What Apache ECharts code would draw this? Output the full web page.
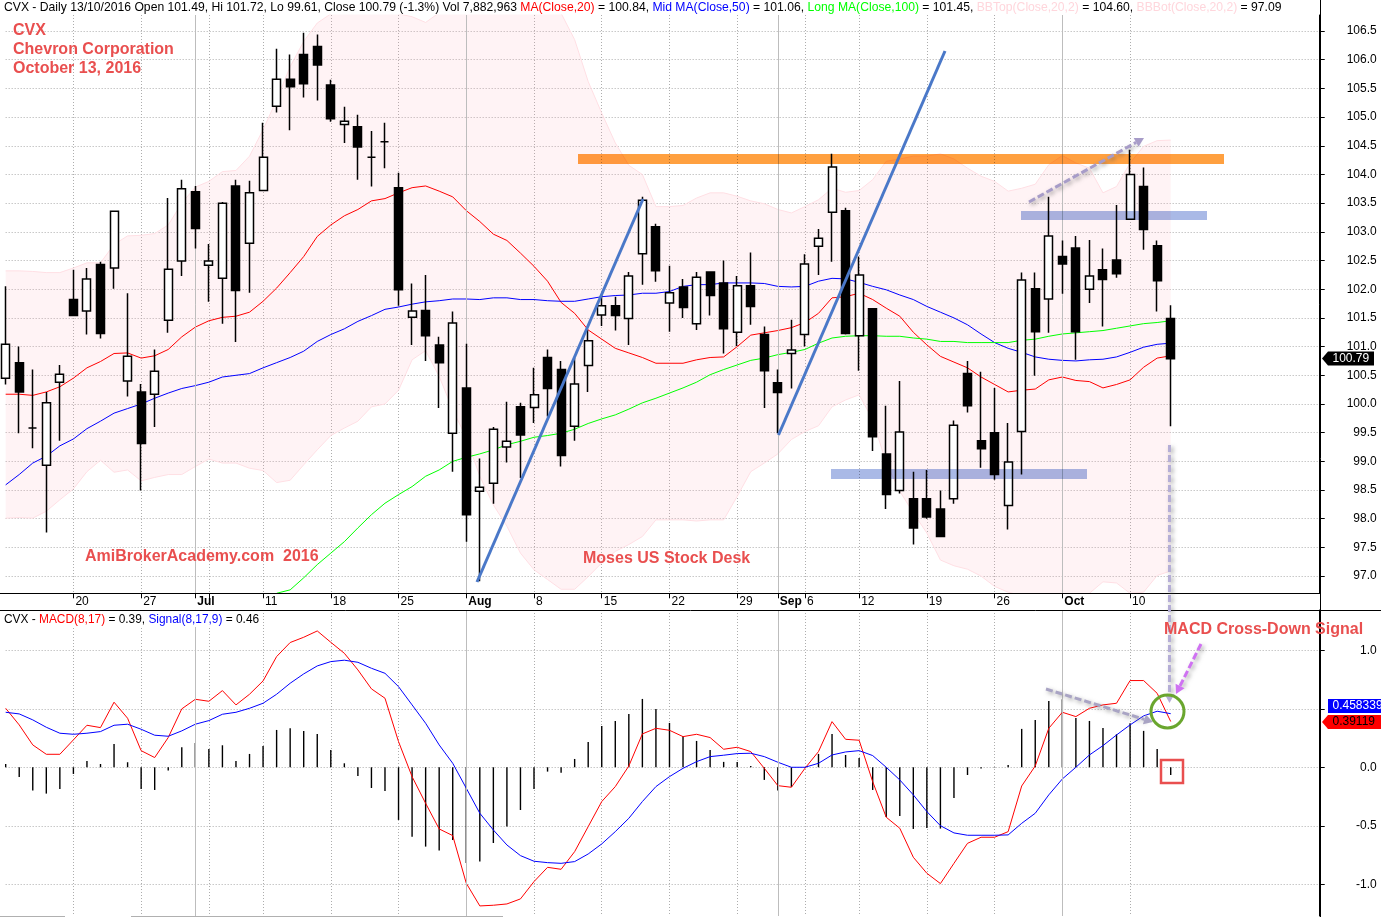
<!DOCTYPE html>
<html>
<head>
<meta charset="utf-8">
<title>CVX daily</title>
<style>html,body{margin:0;padding:0;background:#fff}#chart{width:1381px;height:917px}</style>
<script src="https://cdn.jsdelivr.net/npm/echarts@6/dist/echarts.min.js"></script>
</head>
<body>
<div id="chart"></div>
<script>
// trading days, then the empty bars to the right of the last candle
var categories = [
  '06-13','06-14','06-15','06-16','06-17','06-20','06-21','06-22','06-23','06-24','06-27','06-28','06-29','06-30',
  '07-01','07-05','07-06','07-07','07-08','07-11','07-12','07-13','07-14','07-15','07-18','07-19','07-20','07-21','07-22',
  '07-25','07-26','07-27','07-28','07-29','08-01','08-02','08-03','08-04','08-05','08-08','08-09','08-10','08-11','08-12',
  '08-15','08-16','08-17','08-18','08-19','08-22','08-23','08-24','08-25','08-26','08-29','08-30','08-31','09-01','09-02',
  '09-06','09-07','09-08','09-09','09-12','09-13','09-14','09-15','09-16','09-19','09-20','09-21','09-22','09-23',
  '09-26','09-27','09-28','09-29','09-30','10-03','10-04','10-05','10-06','10-07','10-10','10-11','10-12','10-13',
  '10-14','10-17','10-18','10-19','10-20','10-21','10-24','10-25','10-26','10-27','10-28'
];
var tickDates = ['06-20','06-27','07-01','07-05','07-11','07-18','07-25','08-01','08-08','08-15','08-22','08-29','09-01','09-06','09-12','09-19','09-26','10-03','10-10'];
var tickTexts = ['20','27','Jul','','11','18','25','Aug','8','15','22','29','Sep','6','12','19','26','Oct','10'];
var monthDates = ['07-01','08-01','09-01','10-03'];
var priceTicks = [97,97.5,98,98.5,99,99.5,100,100.5,101,101.5,102,102.5,103,103.5,104,104.5,105,105.5,106,106.5];
var macdTicks = [-1,-0.5,0,0.5,1];

var opens = [100.45,100.72,99.58,98.93,100.38,101.82,101.62,102.43,102.37,100.40,100.21,100.17,101.46,102.49,103.70,102.42,102.19,103.80,102.80,103.72,
  105.19,105.66,106.09,106.23,105.56,104.87,104.83,104.30,104.57,103.77,101.51,101.63,101.03,99.49,100.28,98.48,98.62,99.25,99.95,99.94,
  100.81,100.60,99.61,100.67,101.55,101.71,101.49,102.62,103.09,101.76,102.04,101.40,102.30,102.11,101.25,102.06,101.21,100.37,100.88,101.21,
  102.75,103.34,103.37,101.19,101.66,99.13,98.49,98.35,98.35,98.17,98.35,100.53,99.36,99.50,98.23,99.52,102.01,101.83,102.57,102.72,
  102.00,102.34,102.51,103.22,103.79,102.76,101.49];
var closes = [101.04,100.21,99.58,100.02,100.52,101.54,102.18,101.23,103.36,100.83,99.31,100.57,102.35,103.75,103.06,102.49,103.50,101.98,103.68,104.30,
  105.66,105.53,105.58,105.91,104.97,104.93,104.48,104.30,104.57,101.99,101.62,101.19,100.72,101.41,98.07,98.55,99.56,99.35,99.46,100.16,
  100.27,99.10,100.35,101.10,101.71,101.54,102.23,103.55,102.32,101.94,101.68,102.21,101.89,101.31,102.06,101.70,100.58,100.20,100.94,102.44,
  102.89,104.13,101.23,102.25,99.43,98.42,99.51,97.84,98.03,97.69,99.63,99.97,99.22,98.77,98.99,102.16,101.26,102.93,102.44,101.26,
  102.23,102.17,102.27,104.00,103.04,102.15,100.79];
var highs = [102.05,101.00,100.60,100.21,100.68,102.34,102.37,102.48,103.36,101.93,100.35,100.95,103.59,103.91,103.80,102.79,103.52,103.91,103.89,104.90,
  106.19,106.09,106.47,106.44,105.65,105.18,105.04,104.76,104.90,104.03,102.10,102.25,101.17,101.61,101.05,99.05,99.60,100.04,100.02,100.63,
  100.95,100.75,100.80,101.29,101.90,101.87,102.30,103.61,103.14,102.41,102.18,102.30,102.30,102.50,102.23,102.64,101.35,100.60,101.47,102.61,
  103.05,104.36,103.42,102.57,101.66,99.97,100.40,98.82,98.85,98.49,99.71,100.75,100.56,100.28,99.67,102.29,102.29,103.61,102.85,102.93,
  102.86,102.71,103.47,104.43,104.12,102.85,101.72];
var lows = [100.34,99.49,99.23,97.76,99.36,101.54,101.21,101.14,102.01,100.13,98.49,99.60,101.24,102.23,102.71,101.78,101.40,101.08,101.94,103.72,
  105.08,104.77,105.34,105.29,104.92,104.55,103.91,103.79,104.11,101.71,101.03,100.75,99.93,98.82,97.60,96.91,98.26,98.98,98.71,99.67,
  99.78,98.91,99.36,100.21,101.36,101.28,101.03,102.08,102.13,101.26,101.50,101.29,101.54,100.88,101.01,101.38,99.93,99.49,100.27,101.00,
  102.25,102.48,101.21,100.58,99.18,98.17,98.44,97.55,98.00,97.69,98.26,99.85,98.89,98.68,97.81,98.77,100.49,101.24,101.92,100.77,
  101.76,101.35,102.20,103.22,102.69,101.61,99.61];

var ma20 = [100.17,100.17,100.15,100.21,100.30,100.45,100.63,100.74,100.88,100.89,100.80,100.84,100.95,101.17,101.34,101.45,101.51,101.53,101.60,101.79,
  102.02,102.29,102.57,102.92,103.12,103.28,103.39,103.54,103.58,103.68,103.77,103.80,103.71,103.61,103.37,103.18,102.96,102.85,102.63,102.40,
  102.14,101.77,101.58,101.29,101.13,100.97,100.89,100.81,100.71,100.71,100.71,100.77,100.81,100.82,101.00,101.20,101.24,101.28,101.33,101.42,
  101.58,101.85,101.87,101.93,101.82,101.67,101.53,101.25,101.03,100.83,100.73,100.63,100.47,100.34,100.21,100.24,100.26,100.42,100.47,100.41,
  100.39,100.28,100.34,100.42,100.64,100.80,100.84];
var ma50 = [98.59,98.77,98.97,99.09,99.27,99.39,99.57,99.70,99.84,99.92,100.00,100.10,100.19,100.27,100.32,100.38,100.47,100.50,100.53,100.63,
  100.72,100.81,100.92,101.09,101.21,101.31,101.44,101.54,101.65,101.69,101.74,101.78,101.80,101.83,101.83,101.82,101.85,101.85,101.82,101.82,
  101.80,101.79,101.79,101.83,101.87,101.89,101.90,101.93,101.93,101.96,102.05,102.08,102.08,102.11,102.11,102.11,102.10,102.05,102.04,102.05,
  102.14,102.19,102.18,102.12,102.05,101.99,101.90,101.82,101.70,101.60,101.50,101.38,101.22,101.07,100.97,100.90,100.82,100.78,100.76,100.75,
  100.77,100.78,100.82,100.90,100.99,101.04,101.06];
var ma100 = [null,null,null,null,null,null,null,null,null,null,null,null,null,null,null,null,null,null,null,null,
  96.70,96.76,96.97,97.20,97.40,97.60,97.84,98.07,98.27,98.42,98.56,98.74,98.85,99.00,99.07,99.13,99.20,99.29,99.35,99.42,
  99.45,99.49,99.56,99.66,99.74,99.81,99.91,100.02,100.10,100.19,100.28,100.38,100.51,100.60,100.68,100.76,100.80,100.86,100.90,100.95,
  101.06,101.15,101.18,101.19,101.19,101.18,101.18,101.15,101.13,101.09,101.09,101.07,101.07,101.07,101.07,101.11,101.13,101.18,101.22,101.24,
  101.26,101.28,101.32,101.36,101.40,101.42,101.45];
// the top band leaves the plot between Jul 18 and Aug 10, those values are a guess
var bbTop = [102.32,102.32,102.31,102.29,102.29,102.37,102.46,102.46,102.78,102.93,102.94,102.97,103.12,103.50,103.78,103.88,104.05,104.07,104.32,104.78,
  105.30,105.88,106.32,106.64,106.80,106.95,107.05,107.05,106.95,106.80,106.75,106.65,106.82,107.00,107.10,107.20,107.25,107.25,107.20,107.10,
  107.00,106.81,106.35,105.62,105.07,104.55,104.16,104.00,103.44,103.44,103.46,103.59,103.68,103.68,103.62,103.54,103.49,103.39,103.33,103.44,
  103.56,103.76,103.69,103.72,103.91,104.23,104.27,104.32,104.32,104.36,104.27,104.11,103.97,103.88,103.71,103.76,103.83,104.17,104.33,104.20,
  104.11,103.68,103.79,104.20,104.49,104.59,104.60];
var bbBot = [98.01,98.02,98.01,98.13,98.33,98.52,98.82,99.02,98.81,98.85,98.66,98.72,98.77,98.77,98.91,99.04,98.97,98.97,98.88,98.84,
  98.63,98.67,98.94,99.20,99.45,99.58,99.70,99.95,100.00,100.24,100.77,100.93,100.48,99.90,99.41,98.74,98.24,97.87,97.40,97.11,
  96.94,96.77,96.77,96.99,97.23,97.43,97.55,97.69,97.98,97.98,97.98,97.96,97.98,97.98,98.39,98.82,98.97,99.13,99.38,99.52,
  99.62,99.95,100.07,100.16,99.73,98.97,98.48,98.10,97.75,97.28,97.18,97.12,97.00,96.82,96.72,96.66,96.62,96.62,96.62,96.65,
  96.70,96.90,96.88,96.70,96.72,97.01,97.09];

var macd = [0.504,0.362,0.191,0.111,0.111,0.234,0.359,0.339,0.556,0.419,0.142,0.083,0.254,0.499,0.581,0.564,0.655,0.533,0.624,0.738,
  0.946,1.066,1.111,1.165,1.068,0.974,0.832,0.670,0.590,0.219,-0.080,-0.308,-0.527,-0.584,-0.991,-1.185,-1.179,-1.168,-1.125,-0.977,
  -0.855,-0.872,-0.721,-0.507,-0.293,-0.165,0.011,0.285,0.333,0.316,0.262,0.282,0.254,0.154,0.171,0.134,-0.009,-0.157,-0.171,-0.009,
  0.134,0.390,0.239,0.231,-0.123,-0.427,-0.521,-0.769,-0.906,-0.994,-0.821,-0.650,-0.598,-0.598,-0.550,-0.160,0.011,0.333,0.470,0.433,
  0.504,0.533,0.547,0.741,0.741,0.632,0.391];
var signal = [0.470,0.456,0.405,0.342,0.291,0.282,0.291,0.305,0.359,0.368,0.325,0.274,0.265,0.311,0.368,0.399,0.453,0.470,0.504,0.547,
  0.624,0.718,0.798,0.866,0.903,0.915,0.897,0.846,0.803,0.689,0.533,0.376,0.191,0.034,-0.179,-0.393,-0.536,-0.664,-0.755,-0.803,
  -0.815,-0.821,-0.806,-0.741,-0.655,-0.550,-0.436,-0.293,-0.165,-0.080,-0.009,0.048,0.091,0.103,0.117,0.120,0.091,0.043,0.000,0.000,
  0.034,0.105,0.131,0.142,0.100,0.000,-0.108,-0.236,-0.379,-0.499,-0.561,-0.581,-0.581,-0.581,-0.578,-0.479,-0.393,-0.236,-0.100,0.000,
  0.105,0.185,0.276,0.362,0.439,0.479,0.458];
var hist = [0.028,-0.083,-0.199,-0.225,-0.185,-0.057,0.054,0.028,0.199,0.043,-0.185,-0.194,-0.028,0.171,0.208,0.157,0.188,0.054,0.114,0.182,
  0.319,0.333,0.311,0.285,0.148,0.034,-0.074,-0.177,-0.202,-0.450,-0.593,-0.678,-0.712,-0.621,-0.818,-0.806,-0.647,-0.507,-0.365,-0.185,
  -0.037,-0.046,0.071,0.217,0.353,0.396,0.456,0.584,0.499,0.379,0.268,0.225,0.148,0.046,0.046,0.011,-0.108,-0.199,-0.168,0.003,
  0.114,0.285,0.105,0.080,-0.194,-0.425,-0.416,-0.527,-0.519,-0.524,-0.262,-0.066,-0.011,-0.003,0.020,0.328,0.405,0.567,0.581,0.422,
  0.396,0.336,0.282,0.376,0.311,0.157,-0.066];

var FONT = '"Liberation Sans", Arial, sans-serif';
var ANNOT = '#e94f4f';
var GRID_DOT = { color: '#adadad', width: 1, type: [1, 2] };

var chart = echarts.init(document.getElementById('chart'));

var candleData = opens.map(function (o, i) {
  return [o, closes[i], lows[i], highs[i]];
});
var bbDiff = bbTop.map(function (v, i) {
  return +(v - bbBot[i]).toFixed(2);
});
var tickMap = {};
tickDates.forEach(function (d, i) { tickMap[d] = tickTexts[i]; });
function isTick(i, val) { return tickMap[val] !== undefined; }

function xAxisOf(gridIndex, withLabels) {
  return {
    type: 'category',
    gridIndex: gridIndex,
    data: categories,
    boundaryGap: false,
    axisLine: { show: withLabels, onZero: false, lineStyle: { color: '#000' } },
    axisTick: { show: withLabels, interval: isTick, length: 5, lineStyle: { color: '#000' } },
    axisLabel: {
      show: withLabels,
      interval: isTick,
      align: 'left',
      margin: 2,
      color: '#000',
      fontFamily: FONT,
      fontSize: 12,
      padding: [0, 0, 0, 2],
      formatter: function (v) {
        var t = tickMap[v] || '';
        return /[A-Z]/.test(t) ? '{m|' + t + '}' : t;
      },
      rich: { m: { fontWeight: 'bold', fontFamily: FONT, fontSize: 12, color: '#000' } }
    },
    splitLine: { show: true, interval: isTick, lineStyle: GRID_DOT }
  };
}

function yAxisOf(gridIndex, min, max, ticks, margin) {
  return {
    type: 'value',
    gridIndex: gridIndex,
    position: 'right',
    min: min,
    max: max,
    axisLine: { show: true, lineStyle: { color: '#000' } },
    axisTick: { show: true, length: 5, customValues: ticks, lineStyle: { color: '#000' } },
    axisLabel: {
      customValues: ticks,
      align: 'right',
      margin: margin,
      color: '#000',
      fontFamily: FONT,
      fontSize: 12,
      formatter: function (v) { return v.toFixed(1); }
    },
    splitLine: { show: true, lineStyle: GRID_DOT }
  };
}

function monthLines() {
  return {
    silent: true,
    symbol: 'none',
    label: { show: false },
    lineStyle: { color: '#bdbdbd', width: 1, type: 'solid' },
    data: monthDates.map(function (d) { return { xAxis: d }; })
  };
}

function lineSeries(name, data, color, xi, extra) {
  var s = {
    name: name,
    type: 'line',
    xAxisIndex: xi,
    yAxisIndex: xi,
    data: data,
    showSymbol: false,
    silent: true,
    z: 2,
    lineStyle: { color: color, width: 1 }
  };
  for (var k in extra) s[k] = extra[k];
  return s;
}

// drawn-on markup, these sit on the picture in pixels like the original overlay
function rect(x, y, w, h, fill) {
  return { type: 'rect', z: 100, shape: { x: x, y: y, width: w, height: h }, style: { fill: fill, blend: 'multiply' } };
}
function stroke(x1, y1, x2, y2, color, width) {
  return { type: 'line', z: 100, shape: { x1: x1, y1: y1, x2: x2, y2: y2 }, style: { stroke: color, lineWidth: width } };
}
function label(x, y, text, size) {
  return {
    type: 'text', z: 110,
    style: { x: x, y: y, text: text, fill: ANNOT, font: 'bold ' + size + 'px ' + FONT, verticalAlign: 'middle' }
  };
}
function arrow(x1, y1, x2, y2, color, width) {
  var a = Math.atan2(y2 - y1, x2 - x1), s = 9;
  return [{
    type: 'line', z: 105,
    shape: { x1: x1, y1: y1, x2: x2 - s * Math.cos(a), y2: y2 - s * Math.sin(a) },
    style: {
      stroke: color, lineWidth: width, lineDash: [7, 3],
      shadowBlur: 4, shadowColor: 'rgba(90,90,90,0.55)', shadowOffsetX: 2, shadowOffsetY: 2
    }
  }, {
    type: 'polygon', z: 105,
    shape: { points: [
      [x2, y2],
      [x2 - s * Math.cos(a) + 5 * Math.sin(a), y2 - s * Math.sin(a) - 5 * Math.cos(a)],
      [x2 - s * Math.cos(a) - 5 * Math.sin(a), y2 - s * Math.sin(a) + 5 * Math.cos(a)]
    ] },
    style: { fill: color }
  }];
}
function tag(y, text, fill, textFill, pointed, right) {
  var top = y - 7, bot = y + 7;
  var pts = pointed
    ? [[1322, y], [1328, top], [right, top], [right, bot], [1328, bot]]
    : [[1328, top], [right, top], [right, bot], [1328, bot]];
  return [{
    type: 'polygon', z: 120, shape: { points: pts }, style: { fill: fill }
  }, {
    type: 'text', z: 121,
    style: { x: 1332.5, y: y, text: text, fill: textFill, font: '12px ' + FONT, verticalAlign: 'middle' }
  }];
}

var headerMain = [
  '{k|CVX - Daily 13/10/2016 Open 101.49, Hi 101.72, Lo 99.61, Close 100.79 (-1.3%) Vol 7,882,963 }',
  '{r|MA(Close,20)}{k| = 100.84, }{b|Mid MA(Close,50)}{k| = 101.06, }{g|Long MA(Close,100)}{k| = 101.45, }',
  '{p|BBTop(Close,20,2)}{k| = 104.60, }{p|BBBot(Close,20,2)}{k| = 97.09}'
].join('');
var headerMacd = '{k|CVX - }{r|MACD(8,17)}{k| = 0.39, }{b|Signal(8,17,9)}{k| = 0.46}';
function headerRich(size) {
  var font = size + 'px ' + FONT;
  return {
    k: { fill: '#000', font: font },
    r: { fill: '#ff0000', font: font },
    b: { fill: '#0000ff', font: font },
    g: { fill: '#00ff00', font: font },
    p: { fill: '#ffd6dc', font: font }
  };
}

var markup = [
  // frame
  stroke(0, 593.5, 1320, 593.5, '#000', 1),
  stroke(0, 610.5, 1381, 610.5, '#000', 1),
  stroke(1320.5, 0, 1320.5, 917, '#000', 1),
  stroke(0, 916.5, 65, 916.5, '#b0b0b0', 1),
  stroke(131, 916.5, 503, 916.5, '#b0b0b0', 1),
  // panel titles
  { type: 'rect', z: 90, shape: { x: 0, y: 611, width: 262, height: 16 }, style: { fill: '#fff' } },
  { type: 'text', z: 110, style: { x: 4, y: 7.5, text: headerMain, rich: headerRich(12.17), verticalAlign: 'middle' } },
  { type: 'text', z: 110, style: { x: 4, y: 619.5, text: headerMacd, rich: headerRich(11.9), verticalAlign: 'middle' } },
  // support and resistance bars
  rect(578, 154, 646, 10, '#ffa040'),
  rect(831, 469, 256, 10, '#a9b9e6'),
  rect(1021, 211, 186, 9, '#a9b9e6'),
  // trend lines
  stroke(477, 582, 643, 199, '#4a78c8', 3),
  stroke(778.5, 435, 945, 51, '#4a78c8', 3),
  // notes
  label(13, 30.5, 'CVX', 16),
  label(13, 49.5, 'Chevron Corporation', 16),
  label(13, 68.5, 'October 13, 2016', 16),
  label(85, 557, 'AmiBrokerAcademy.com  2016', 16),
  label(583, 558.5, 'Moses US Stock Desk', 16),
  label(1164, 629.5, 'MACD Cross-Down Signal', 16),
  // cross-down markers
  { type: 'circle', z: 106, shape: { cx: 1167.5, cy: 711.5, r: 16.5 }, style: { fill: 'none', stroke: '#6aa62e', lineWidth: 3 } },
  { type: 'rect', z: 106, shape: { x: 1161, y: 760, width: 22, height: 23 }, style: { fill: 'none', stroke: ANNOT, lineWidth: 2.5 } }
]
  .concat(arrow(1029, 202, 1144, 138, '#a79cc8', 3))
  .concat(arrow(1169.5, 445, 1169.5, 703, '#b5aed6', 3))
  .concat(arrow(1046, 689, 1153, 722, '#a9a4c4', 3))
  .concat(arrow(1201, 644, 1176, 694, '#cf72f2', 3))
  .concat(tag(358.5, '100.79', '#000', '#fff', true, 1374))
  .concat(tag(706, '0.458339', '#0000ff', '#fff', false, 1381))
  .concat(tag(722, '0.39119', '#ff0000', '#000', true, 1381));

var option = {
  animation: false,
  backgroundColor: '#fff',
  textStyle: { fontFamily: FONT },
  grid: [
    { left: 5.67, width: 1314.06, top: 15, height: 578.3 },
    { left: 5.67, width: 1314.06, top: 610, height: 306 }
  ],
  xAxis: [xAxisOf(0, true), xAxisOf(1, false)],
  yAxis: [
    yAxisOf(0, 96.7, 106.78, priceTicks, 57),
    yAxisOf(1, -1.271, 1.344, macdTicks, 57)
  ],
  series: [
    lineSeries('BBBot', bbBot, '#ffdfe4', 0, { stack: 'bb', z: 1, markLine: monthLines() }),
    lineSeries('BBTop', bbDiff, '#ffdfe4', 0, { stack: 'bb', z: 1, areaStyle: { color: 'rgba(255,170,185,0.14)', opacity: 1 } }),
    lineSeries('MA20', ma20, '#ff0000', 0),
    lineSeries('MA50', ma50, '#0000ff', 0),
    lineSeries('MA100', ma100, '#00ff00', 0),
    {
      name: 'CVX',
      type: 'candlestick',
      xAxisIndex: 0,
      yAxisIndex: 0,
      data: candleData,
      barWidth: 8.5,
      clip: false,
      silent: true,
      z: 5,
      itemStyle: {
        color: '#fff',
        color0: '#000',
        borderColor: '#000',
        borderColor0: '#000',
        borderColorDoji: '#000',
        borderWidth: 1.5
      }
    },
    {
      name: 'Histogram',
      type: 'bar',
      xAxisIndex: 1,
      yAxisIndex: 1,
      data: hist,
      barWidth: 1.4,
      silent: true,
      z: 2,
      itemStyle: { color: '#000' },
      markLine: monthLines()
    },
    lineSeries('MACD', macd, '#ff0000', 1),
    lineSeries('Signal', signal, '#0000ff', 1)
  ],
  graphic: { elements: markup }
};

chart.setOption(option);
</script>
</body>
</html>
